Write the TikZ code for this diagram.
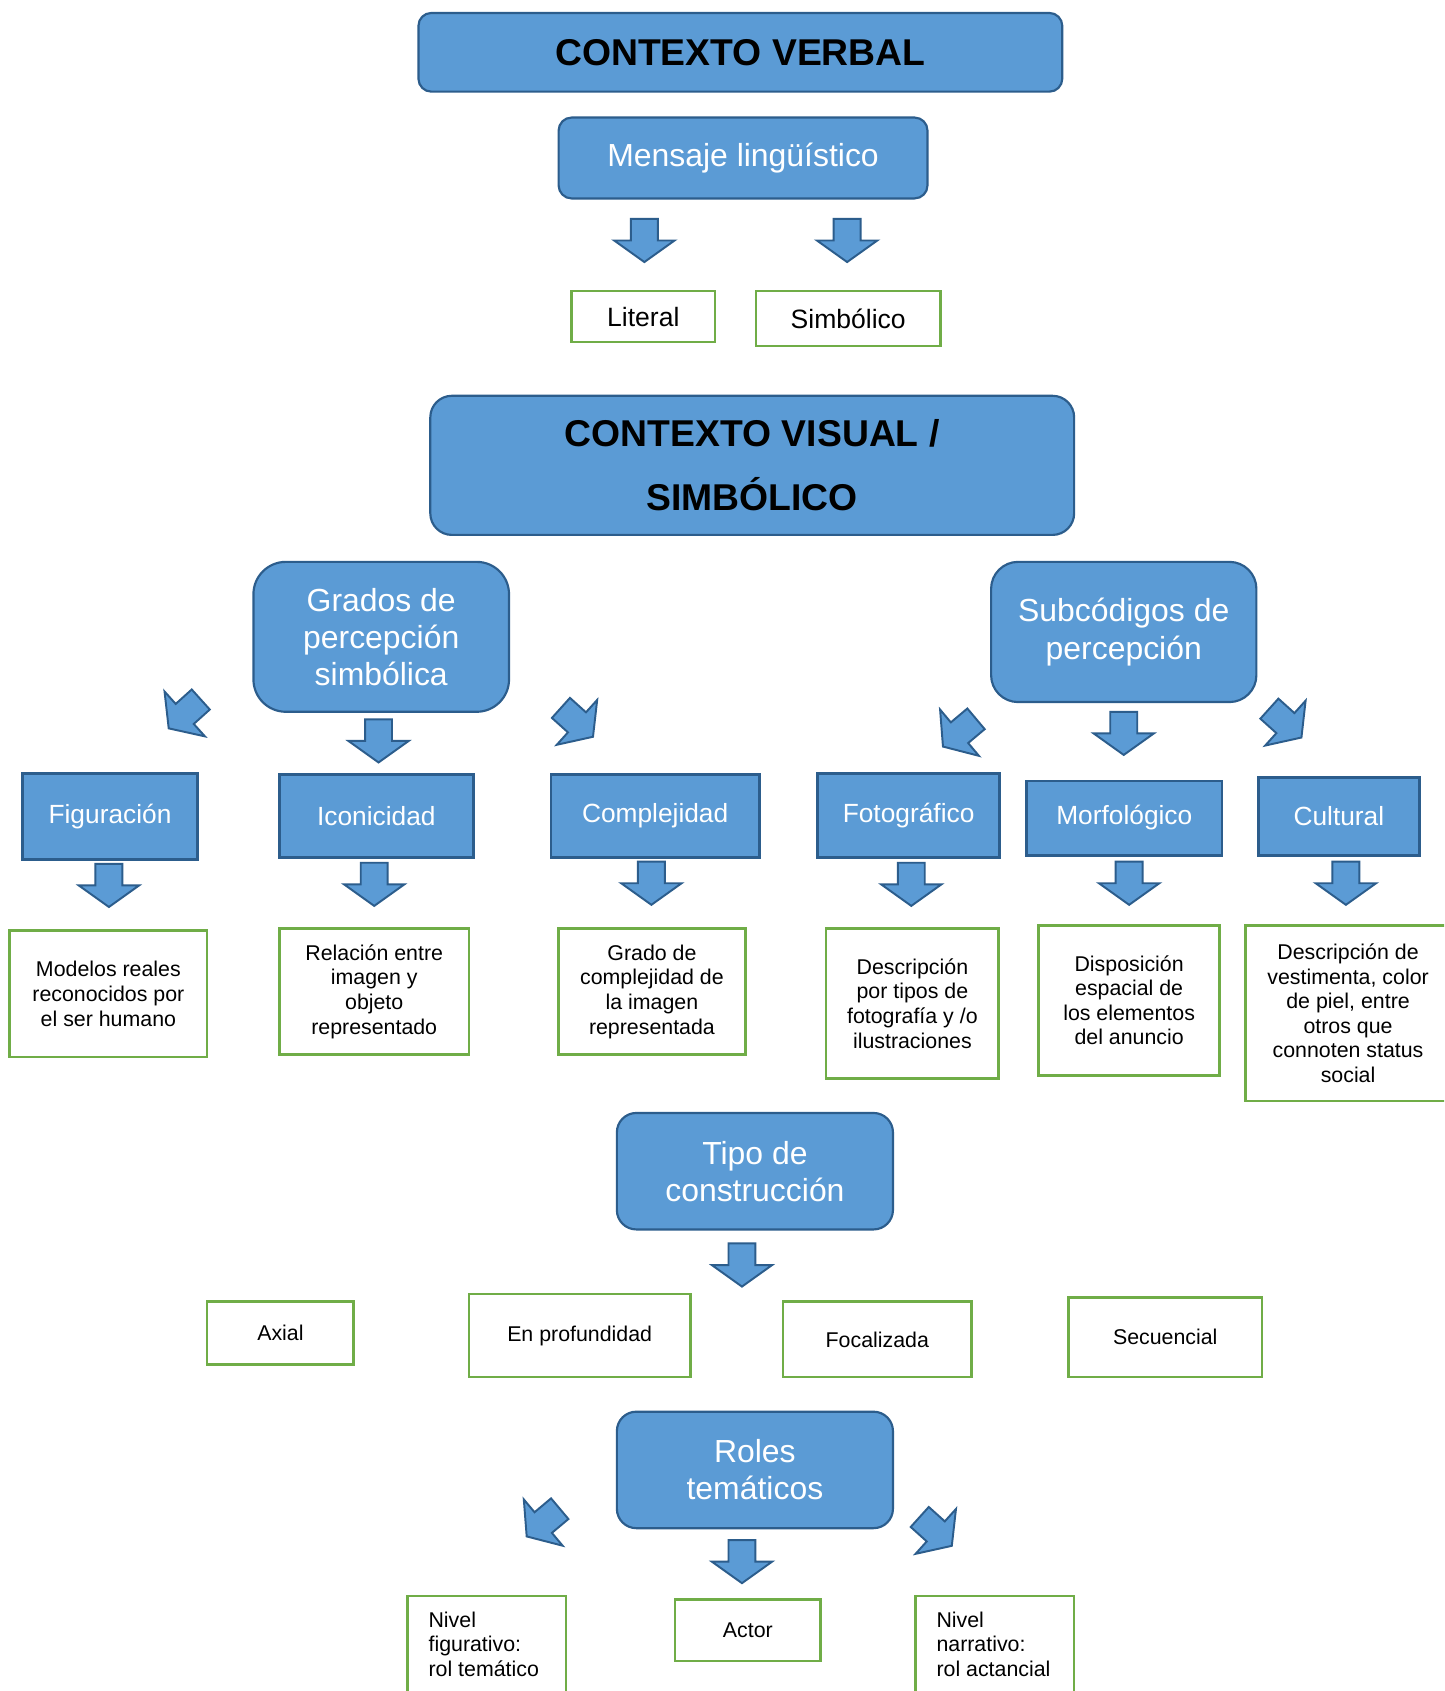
\documentclass[tikz,border=0pt]{standalone}
\usepackage{fontspec}
\setmainfont{Liberation Sans}
\definecolor{bfill}{HTML}{5B9BD5}
\definecolor{bline}{HTML}{2C5D8C}
\definecolor{gline}{HTML}{70AD47}
\begin{document}
\begin{tikzpicture}[x=0.5pt,y=-0.5pt,
  bbox/.style={draw=bline, fill=bfill, line width=1pt, rounded corners=#1, inner sep=0pt, align=center, text=white, font=\fontsize{14.8}{17.25}\selectfont},
  tbox/.style={draw=bline, fill=bfill, line width=1pt, rounded corners=#1, inner sep=0pt, align=center, text=black, font=\bfseries\fontsize{17.3}{29.5}\selectfont},
  rbox/.style={draw=bline, fill=bfill, line width=1.2pt, inner sep=0pt, text=white, font=\fontsize{12.2}{14}\selectfont},
  gsm/.style={draw=gline, fill=white, line width=1.2pt, inner sep=0pt, align=center, font=\fontsize{9.9}{11.4}\selectfont},
  gmd/.style={draw=gline, fill=white, line width=1.2pt, inner sep=0pt, align=center, font=\fontsize{12.3}{14}\selectfont},
  gtxt/.style={inner sep=0pt, align=left, anchor=north west, font=\fontsize{9.9}{11.4}\selectfont},
  barrow/.pic={\path[draw=bline, fill=bfill, line width=0.9pt, line join=miter]
    (-6.25pt,10pt) -- (6.25pt,10pt) -- (6.25pt,0pt) -- (14pt,0pt) -- (0pt,-10pt)
    -- (-14pt,0pt) -- (-6.25pt,0pt) -- cycle;}
]
\useasboundingbox (0,0) rectangle (1339,1568);
\fill[white] (0,0) rectangle (1339,1568);
\clip (0,0) rectangle (1339,1568);

% ---- Contexto verbal
\node[tbox=6pt, minimum width=298.5pt, minimum height=36.5pt] (cv) at (686.5,48.5) {CONTEXTO VERBAL};
\node[bbox=6pt, minimum width=171pt, minimum height=37.5pt] (ml) at (689,146.5) {Mensaje lingüístico};
\pic at (597.5,223) {barrow};
\pic at (785.5,223) {barrow};
\node[gmd, minimum width=66.5pt, minimum height=23.5pt] (lit) at (596.5,293.5) {Literal};
\node[gmd, minimum width=85.5pt, minimum height=25.5pt] (sim) at (786.5,295.5) {Simbólico};

% ---- Contexto visual
\node[tbox=10pt, minimum width=298.5pt, minimum height=64.5pt] (cvs) at (697.5,431.5) {CONTEXTO VISUAL /\\SIMBÓLICO};
\node[bbox=15pt, minimum width=118.5pt, minimum height=69.5pt] (gps) at (353.5,590.5) {Grados de\\percepción\\simbólica};
\node[bbox=12.5pt, minimum width=123pt, minimum height=65pt] (sub) at (1042,586) {Subcódigos de\\percepción};

\pic[rotate=-48] at (171.3,662) {barrow};
\pic at (351,687) {barrow};
\pic[rotate=48] at (535,669.8) {barrow};
\pic[rotate=-50] at (889.7,679.4) {barrow};
\pic at (1042,680) {barrow};
\pic[rotate=48] at (1191.9,670.5) {barrow};

\node[rbox, minimum width=81pt, minimum height=40pt] (fig) at (102,757) {Figuración};
\node[rbox, minimum width=90pt, minimum height=38.5pt] (ico) at (349,756.5) {Iconicidad};
\node[rbox, minimum width=96.5pt, minimum height=38.5pt] (com) at (607.5,756.5) {Complejidad};
\node[rbox, minimum width=84.5pt, minimum height=39pt] (fot) at (842.5,756) {Fotográfico};
\node[rbox, minimum width=90.5pt, minimum height=34.5pt] (mor) at (1042.5,758.5) {Morfológico};
\node[rbox, minimum width=74.5pt, minimum height=36pt] (cul) at (1241.5,757) {Cultural};

\pic at (101,821) {barrow};
\pic at (347,820) {barrow};
\pic at (604,819) {barrow};
\pic at (845,820) {barrow};
\pic at (1047,819) {barrow};
\pic at (1248,819) {barrow};

\node[gsm, minimum width=91.5pt, minimum height=58.5pt] (d1) at (100.5,921.5) {Modelos reales\\reconocidos por\\el ser humano};
\node[gsm, minimum width=88pt, minimum height=58.5pt] (d2) at (347,919.5) {Relación entre\\imagen y\\objeto\\representado};
\node[gsm, minimum width=86.5pt, minimum height=58.5pt] (d3) at (604.5,919.5) {Grado de\\complejidad de\\la imagen\\representada};
\node[gsm, minimum width=80pt, minimum height=69.5pt] (d4) at (846,930.5) {Descripción\\por tipos de\\fotografía y /o\\ilustraciones};
\node[gsm, minimum width=84pt, minimum height=69.5pt] (d5) at (1047,927.5) {Disposición\\espacial de\\los elementos\\del anuncio};
\node[gsm, minimum width=95pt, minimum height=81.5pt] (d6) at (1250,939.5) {Descripción de\\vestimenta, color\\de piel, entre\\otros que\\connoten status\\social};

% ---- Tipo de construccion
\node[bbox=9pt, minimum width=128pt, minimum height=54pt] (tc) at (700,1086) {Tipo de\\construcción};
\pic at (688,1173) {barrow};
\node[gsm, minimum width=68pt, minimum height=29pt] (ax) at (260,1236) {Axial};
\node[gsm, minimum width=102.5pt, minimum height=38.5pt] (ep) at (537.5,1238.5) {En profundidad};
\node[gsm, minimum width=87.5pt, minimum height=35pt] (fo) at (813.5,1242) {Focalizada};
\node[gsm, minimum width=89.5pt, minimum height=37pt] (se) at (1080.5,1240) {Secuencial};

% ---- Roles tematicos
\node[bbox=9pt, minimum width=128pt, minimum height=54pt] (rt) at (700,1363) {Roles\\temáticos};
\pic[rotate=-50] at (503.7,1411.8) {barrow};
\pic at (688,1448) {barrow};
\pic[rotate=48] at (867.7,1420) {barrow};

\node[gsm, minimum width=73.5pt, minimum height=60pt] (nf) at (451.5,1540) {};
\node[gtxt] (nft) at (397,1494) {Nivel\\figurativo:\\rol temático};
\node[gsm, minimum width=67.5pt, minimum height=28.5pt] (ac) at (693.5,1511.5) {Actor};
\node[gsm, minimum width=73.5pt, minimum height=60pt] (nn) at (922.5,1540) {};
\node[gtxt] (nnt) at (868,1494) {Nivel\\narrativo:\\rol actancial};
\end{tikzpicture}
\end{document}
